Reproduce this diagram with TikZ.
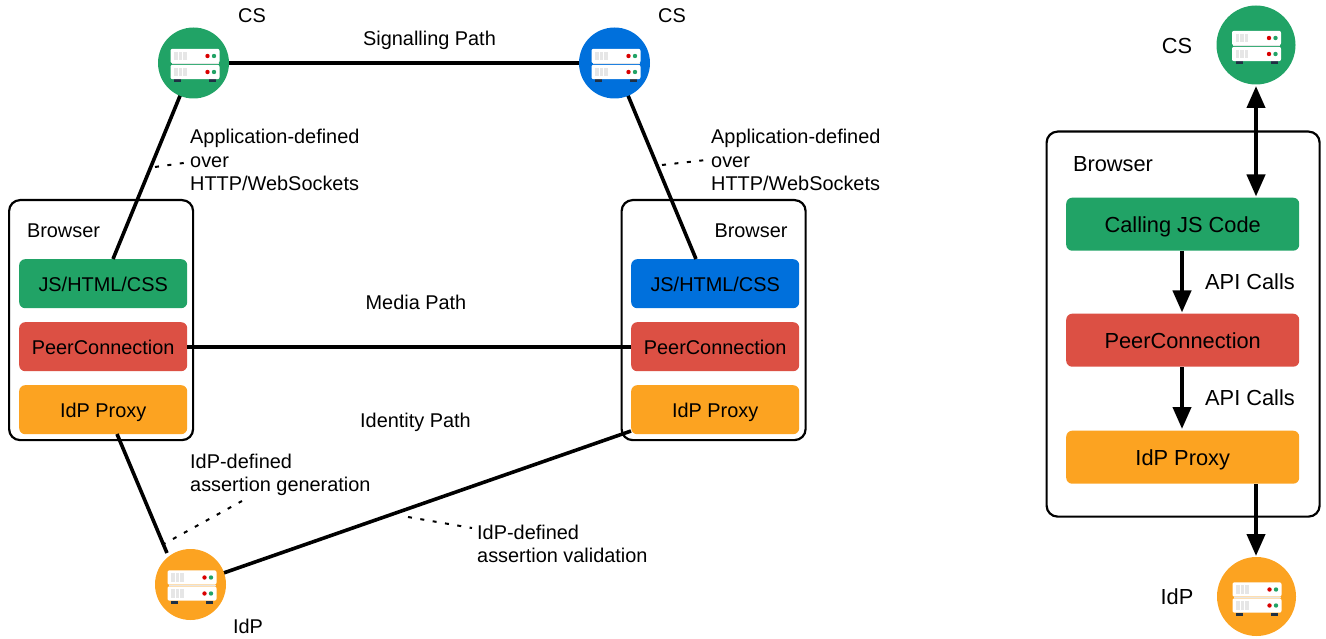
\documentclass[tikz,border=0pt]{standalone}
\usepackage{fontspec}
\setmainfont{Liberation Sans}
\usetikzlibrary{arrows.meta}
\definecolor{cgreen}{HTML}{21A366}
\definecolor{cblue}{HTML}{0070DC}
\definecolor{cred}{HTML}{DC5044}
\definecolor{corange}{HTML}{FCA321}
\definecolor{rackgray}{HTML}{E6E6E6}
\definecolor{foot}{HTML}{1F3044}
\tikzset{
  x=1pt,y=-1pt,
  txt/.style={font=\fontsize{19.9}{23.5}\selectfont,text=black,inner sep=0pt},
  txtb/.style={font=\fontsize{21.8}{26}\selectfont,text=black,inner sep=0pt},
  lbl/.style={txt,align=left,anchor=north west},
  box/.style={draw=black,line width=2.2pt,rounded corners=11pt,fill=white,inner sep=0pt},
  layer/.style={rounded corners=6pt,inner sep=0pt,font=\fontsize{19.9}{23.5}\selectfont,text=black},
  layerb/.style={layer,minimum width=233,minimum height=53,anchor=north west,font=\fontsize{21.8}{26}\selectfont,text height=19.5pt,text depth=2.5pt},
  layers/.style={layer,minimum width=168,minimum height=49,anchor=north west,text height=17pt,text depth=2pt},
  conn/.style={line width=3.6pt,black},
  dots/.style={line width=2pt,black,dash pattern=on 4pt off 8.5pt},
  arr/.style={line width=4pt,black,-{Triangle[length=22pt,width=18pt]}},
  arrb/.style={line width=4pt,black,{Triangle[length=22pt,width=18pt]}-{Triangle[length=22pt,width=18pt]}},
  disc/.style={circle,inner sep=0pt,minimum size=#1},
  pics/rack/.style={code={
    \fill[foot] (-19.5,16.5) rectangle (-12.5,19);
    \fill[foot] (15.5,16.5) rectangle (22.5,19);
    \foreach \yy in {-7,9}{
      \fill[white,rounded corners=2pt] (-23,\yy-7.2) rectangle (26,\yy+7.2);
      \foreach \xx in {-17.5,-13,-8.5}
        \fill[rackgray] (\xx-1.9,\yy-4.2) rectangle (\xx+1.9,\yy+4.2);
      \fill[red!85!black] (14,\yy) circle (2.2);
      \fill[cgreen] (20.5,\yy) circle (2.2);
    }
    \fill[rackgray] (-22,0.5) rectangle (25,1.5);
  }}
}
\begin{document}
\begin{tikzpicture}
\useasboundingbox (0,0) rectangle (1326,639);
% left part
\node[box,minimum width=184,minimum height=240,anchor=north west] (bl) at (8,199) {};
\node[box,minimum width=184,minimum height=240,anchor=north west] (br) at (620.5,199) {};
\node[layers,fill=cgreen] (jsl) at (19,259) {JS/HTML/CSS};
\node[layers,fill=cred] (pcl) at (19,322) {PeerConnection};
\node[layers,fill=corange] (ipl) at (19,385) {IdP Proxy};
\node[layers,fill=cblue] (jsr) at (631,259) {JS/HTML/CSS};
\node[layers,fill=cred] (pcr) at (631,322) {PeerConnection};
\node[layers,fill=corange] (ipr) at (631,385) {IdP Proxy};
\coordinate (cs1c) at (193.5,63);
\coordinate (cs2c) at (614.5,63);
\coordinate (idpc) at (190.5,584.5);
\coordinate (jslt) at (113,259);
\coordinate (jsrt) at (696,259);
\coordinate (iplb) at (117,434);
\coordinate (iprb) at (631,431);
\coordinate (idpt) at (167,553);
\draw[conn] (cs1c) -- (cs2c);
\draw[conn] (cs1c) -- (jslt);
\draw[conn] (cs2c) -- (jsrt);
\draw[conn] (pcl) -- (pcr);
\draw[conn] (iplb) -- (idpt);
\draw[conn] (idpc) -- (iprb);
\node[disc=71pt,fill=cgreen] (cs1) at (cs1c) {};
\node[disc=71pt,fill=cblue] (cs2) at (cs2c) {};
\node[disc=71pt,fill=corange] (idp1) at (idpc) {};
\pic at (cs1) {rack};
\pic at (cs2) {rack};
\pic at (idp1) {rack};
% dotted leaders
\coordinate (d1a) at (155,167); \coordinate (d1b) at (187,162.5);
\coordinate (d2a) at (662,165); \coordinate (d2b) at (706,160);
\coordinate (d3a) at (162,545); \coordinate (d3b) at (242,501);
\coordinate (d4a) at (408,517); \coordinate (d4b) at (472,528);
\draw[dots] (d1a) -- (d1b);
\draw[dots] (d2a) -- (d2b);
\draw[dots] (d3a) -- (d3b);
\draw[dots] (d4a) -- (d4b);
% labels
\node[txt] (t1) at (252,16) {CS};
\node[txt] (t2) at (672,16) {CS};
\node[txt] (t3) at (429.5,40) {Signalling Path};
\node[lbl] (t4) at (190,129) {Application-defined\\over\\HTTP/WebSockets};
\node[lbl] (t5) at (711,129) {Application-defined\\over\\HTTP/WebSockets};
\node[txt] (t6) at (63.5,231) {Browser};
\node[txt] (t7) at (751,231) {Browser};
\node[txt] (t8) at (416,302) {Media Path};
\node[txt] (t9) at (415.5,422) {Identity Path};
\node[lbl] (t10) at (190,453.5) {IdP-defined\\assertion generation};
\node[lbl] (t11) at (477,524.5) {IdP-defined\\assertion validation};
\node[txt] (t12) at (248,626) {IdP};
% right part
\node[box,minimum width=273,minimum height=385,anchor=north west] (bx) at (1045.5,130.5) {};
\node[layerb,fill=cgreen] (js3) at (1066,197.5) {Calling JS Code};
\node[layerb,fill=cred] (pc3) at (1066,313.5) {PeerConnection};
\node[layerb,fill=corange] (ip3) at (1066,430.5) {IdP Proxy};
\node[disc=79pt,fill=cgreen] (cs3) at (1256,45) {};
\node[disc=79pt,fill=corange] (idp3) at (1256.5,596.5) {};
\begin{scope}[shift={(1255,45)},scale=1.08]\pic {rack};\end{scope}
\begin{scope}[shift={(1255.5,596.5)},scale=1.08]\pic {rack};\end{scope}
\coordinate (a1) at (1256,86);
\coordinate (a2) at (1256,196.5);
\coordinate (a3) at (1182,251);
\coordinate (a4) at (1182,312.5);
\coordinate (a5) at (1182,367);
\coordinate (a6) at (1182,429);
\coordinate (a7) at (1256,484);
\coordinate (a8) at (1256,556);
\draw[arrb] (a1) -- (a2);
\draw[arr] (a3) -- (a4);
\draw[arr] (a5) -- (a6);
\draw[arr] (a7) -- (a8);
\node[txtb] (r1) at (1177,46) {CS};
\node[txtb] (r2) at (1113,164) {Browser};
\node[txtb] (r3) at (1250,282) {API Calls};
\node[txtb] (r4) at (1250,398) {API Calls};
\node[txtb] (r5) at (1177,597) {IdP};
\end{tikzpicture}
\end{document}
